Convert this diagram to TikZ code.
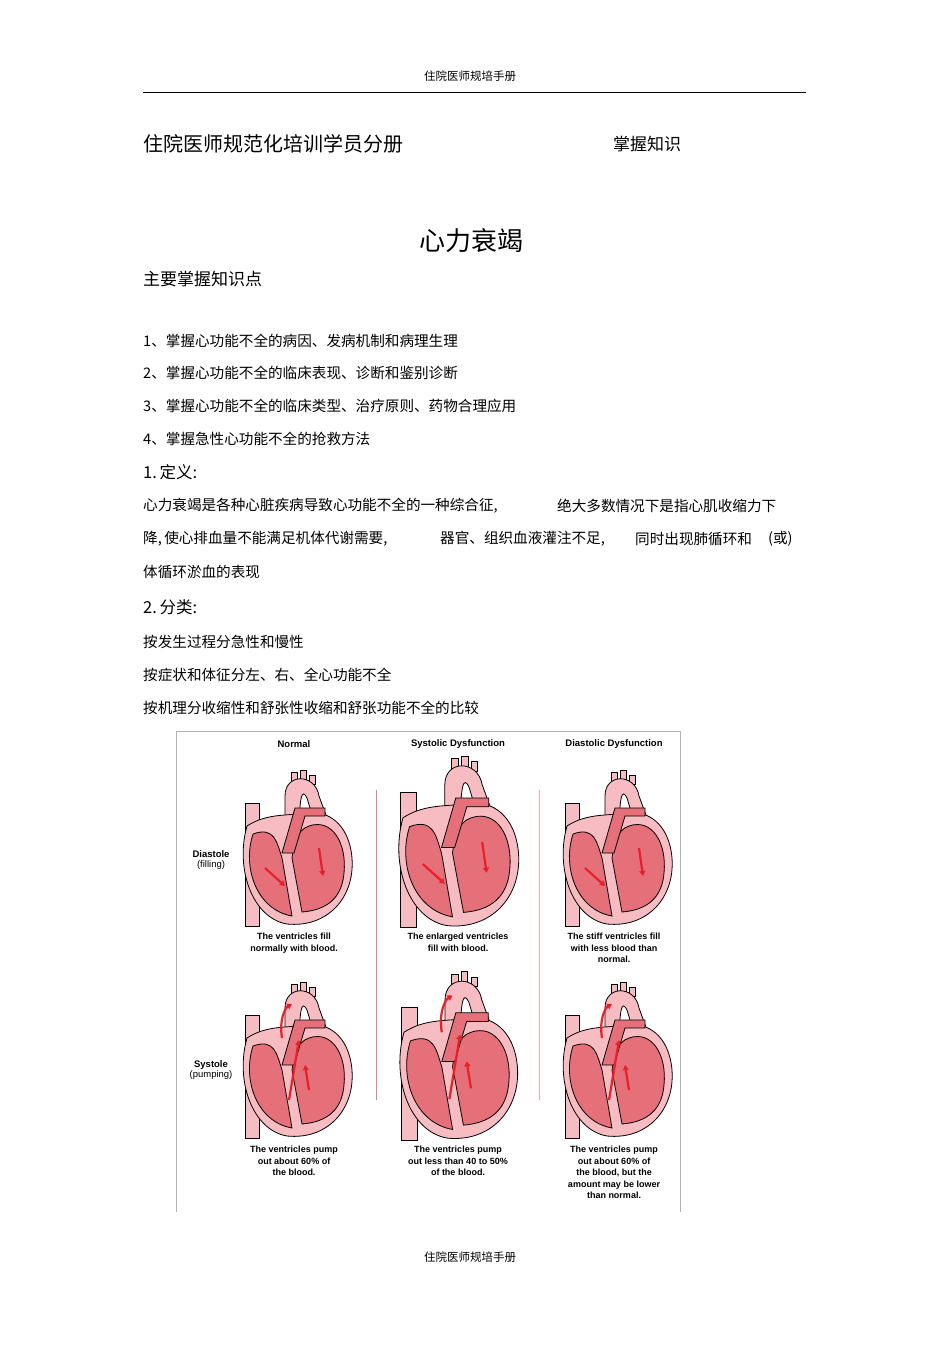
\documentclass[tikz,border=0pt]{standalone}
\usepackage{fontspec}
\setmainfont{Noto Sans CJK SC}
\newfontfamily\lat{Liberation Sans}
\usetikzlibrary{arrows.meta}
\definecolor{pale}{HTML}{F7BCC1}
\definecolor{dark}{HTML}{E5707A}
\definecolor{bred}{HTML}{E8202A}
\definecolor{divl}{HTML}{E8808A}
\tikzset{
 t/.style={anchor=west,inner sep=0pt,font=\fontsize{14.6bp}{16bp}\selectfont},
 captxt/.style={align=center,inner sep=0pt,font=\lat\bfseries\fontsize{9bp}{11.5bp}\selectfont},
 hd/.style={inner sep=0pt,font=\lat\bfseries\fontsize{9.5bp}{11bp}\selectfont},
 ol/.style={draw=black,line width=0.8bp},
 arr/.style={bred,line width=2.2bp,-{Triangle[length=5bp,width=6bp]}}
}
\newcommand\hrt[5]{% cx cy scale systole(0/1) name
\begin{scope}[shift={(#1,#2)},scale=#3]
 \fill[pale,ol] (-52,-45) rectangle (-38,78);
 \fill[pale,ol] (-6,-66) rectangle (0,-76);
 \fill[pale,ol] (3,-68) rectangle (9,-78);
 \fill[pale,ol] (12,-64) rectangle (18,-73);
 \fill[pale,ol] (-12,-5) -- (-12,-52) .. controls (-12,-75) and (18,-75) .. (22,-52) -- (30,-30) -- (16,-30) -- (10,-50) .. controls (5,-60) and (2,-54) .. (2,-5) -- cycle;
 \fill[pale,ol] (30,-28) circle (4); \fill[pale,ol] (35,-20) circle (4);
 \fill[pale,ol] (-50,-22) .. controls (-62,20) and (-45,70) .. (-10,76) .. controls (30,80) and (58,50) .. (55,10) .. controls (52,-25) and (30,-38) .. (10,-35) .. controls (-10,-32) and (-30,-35) .. (-50,-22) -- cycle;
 \fill[dark,ol] (-44,-14) .. controls (-55,20) and (-40,62) .. (-5,68) -- (-15,10) .. controls (-20,-5) and (-22,-22) .. (-44,-14) -- cycle;
 \fill[dark,ol] (12,-22) .. controls (35,-30) and (50,-5) .. (47,25) .. controls (45,50) and (30,62) .. (5,64) -- (-5,10) .. controls (-3,-5) and (0,-18) .. (12,-22) -- cycle;
 \fill[dark,ol] (-15,5) -- (-2,-40) -- (28,-40) -- (28,-32) -- (8,-32) -- (-3,5) -- cycle;
 \ifnum#4=0
  \draw[arr] (-32,20) -- (-12,38);
  \draw[arr] (22,0) -- (26,28);
 \else
  \draw[arr] (-8,40) -- (2,-20);
  \draw[arr] (-15,-22) .. controls (-18,-40) and (-12,-52) .. (-5,-56);
  \draw[arr] (12,30) -- (8,5);
 \fi
\end{scope}
\coordinate (#5) at (#1,#2);
}
\begin{document}
\begin{tikzpicture}[x=1bp,y=-1bp]
\useasboundingbox[fill=white] (0,0) rectangle (950,1345);
\node[inner sep=0pt,font=\fontsize{11.5bp}{13bp}\selectfont] (hdr) at (470,76) {住院医师规培手册};
\coordinate (r1) at (143,92); \coordinate (r2) at (806,92);
\draw[line width=0.8bp] (r1) -- (r2);
\node[t,font=\fontsize{20bp}{22bp}\selectfont] (sub) at (143,144) {住院医师规范化培训学员分册};
\node[t,font=\fontsize{17bp}{18bp}\selectfont] (zw) at (613,144) {掌握知识};
\node[inner sep=0pt,font=\fontsize{26bp}{28bp}\selectfont] (title) at (471,241) {心力衰竭};
\node[t,font=\fontsize{17bp}{18bp}\selectfont] (main) at (143,279) {主要掌握知识点};
\node[t] (l1) at (143,341) {1、掌握心功能不全的病因、发病机制和病理生理};
\node[t] (l2) at (143,373) {2、掌握心功能不全的临床表现、诊断和鉴别诊断};
\node[t] (l3) at (143,406) {3、掌握心功能不全的临床类型、治疗原则、药物合理应用};
\node[t] (l4) at (143,439) {4、掌握急性心功能不全的抢救方法};
\node[t,font=\fontsize{16.5bp}{18bp}\selectfont] (d1) at (143,472) {1.\,定义:};
\node[t] (p1a) at (143,506) {心力衰竭是各种心脏疾病导致心功能不全的一种综合征,};
\node[t] (p1b) at (557,506) {绝大多数情况下是指心肌收缩力下};
\node[t] (p2a) at (143,539) {降,\,使心排血量不能满足机体代谢需要,};
\node[t] (p2b) at (440,539) {器官、组织血液灌注不足,};
\node[t] (p2c) at (635,539) {同时出现肺循环和};
\node[t] (p2d) at (768,539) {(或)};
\node[t] (p3) at (143,572) {体循环淤血的表现};
\node[t,font=\fontsize{16.5bp}{18bp}\selectfont] (d2) at (143,607) {2.\,分类:};
\node[t] (c1) at (143,642) {按发生过程分急性和慢性};
\node[t] (c2) at (143,675) {按症状和体征分左、右、全心功能不全};
\node[t] (c3) at (143,708) {按机理分收缩性和舒张性收缩和舒张功能不全的比较};
\draw[gray!60,line width=0.8bp] (176,1212) -- (176,731) -- (680,731) -- (680,1212);
\draw[divl,line width=1bp] (376,790) -- (376,1100);
\draw[divl!70,line width=1bp] (539,790) -- (539,1100);
\node[hd] (h1) at (294,744) {Normal};
\node[hd] (h2) at (458,744) {Systolic Dysfunction};
\node[hd] (h3) at (614,744) {Diastolic Dysfunction};
\node[captxt,font=\lat\bfseries\fontsize{9.5bp}{11.5bp}\selectfont] (dia) at (211,860) {Diastole\\[-1pt]{\mdseries (filling)}};
\node[captxt,font=\lat\bfseries\fontsize{9.5bp}{11.5bp}\selectfont] (sys) at (211,1070) {Systole\\[-1pt]{\mdseries (pumping)}};
\hrt{297}{848}{1}{0}{ha}
\hrt{458}{842}{1.1}{0}{hb}
\hrt{617}{848}{1}{0}{hc}
\hrt{297}{1060}{1}{1}{hd}
\hrt{458}{1056}{1.08}{1}{he}
\hrt{617}{1060}{1}{1}{hf}
\node[captxt,anchor=north] (k1) at (294,933) {The ventricles fill\\normally with blood.};
\node[captxt,anchor=north] (k2) at (458,933) {The enlarged ventricles\\fill with blood.};
\node[captxt,anchor=north] (k3) at (614,933) {The stiff ventricles fill\\with less blood than\\normal.};
\node[captxt,anchor=north] (k4) at (294,1146) {The ventricles pump\\out about 60\% of\\the blood.};
\node[captxt,anchor=north] (k5) at (458,1146) {The ventricles pump\\out less than 40 to 50\%\\of the blood.};
\node[captxt,anchor=north] (k6) at (614,1146) {The ventricles pump\\out about 60\% of\\the blood, but the\\amount may be lower\\than normal.};
\node[inner sep=0pt,font=\fontsize{11.5bp}{13bp}\selectfont] (ftr) at (470,1257) {住院医师规培手册};
\end{tikzpicture}
\end{document}
